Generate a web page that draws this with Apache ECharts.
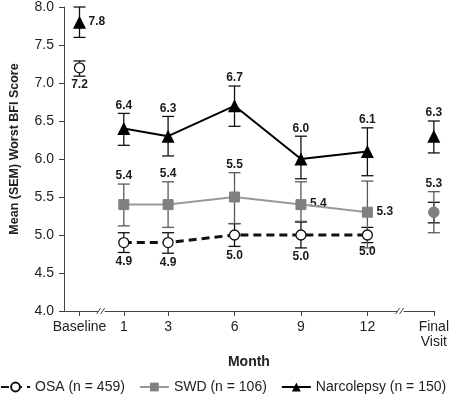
<!DOCTYPE html>
<html>
<head>
<meta charset="utf-8">
<script src="https://cdn.jsdelivr.net/npm/echarts@6/dist/echarts.min.js"></script>
<style>
html,body{margin:0;padding:0;background:#fff;}
#chart{width:452px;height:400px;}
</style>
</head>
<body>
<div id="chart"></div>
<script>
// ---- data ----
const tickLabels = ['Baseline', '1', '3', '6', '9', '12', 'Final\nVisit'];
const monthPos = [-1, 1, 3, 6, 9, 12, 15];
const breakPos = [0, 13.5];

const osaName = 'OSA (n = 459)';
const osaMean = [7.2, 4.9, 4.9, 5.0, 5.0, 5.0, 5.3];
const osaLow  = [7.09, 4.77, 4.76, 4.85, 4.83, 4.90, 5.16];
const osaHigh = [7.29, 5.03, 5.03, 5.15, 5.17, 5.10, 5.43];

const swdName = 'SWD (n = 106)';
const swdMean = [null, 5.4, 5.4, 5.5, 5.4, 5.3, 5.3];
const swdLow  = [null, 5.12, 5.10, 5.15, 5.18, 4.83, 5.03];
const swdHigh = [null, 5.67, 5.70, 5.82, 5.70, 5.71, 5.57];

const narcoName = 'Narcolepsy (n = 150)';
const narcoMean = [7.8, 6.4, 6.3, 6.7, 6.0, 6.1, 6.3];
const narcoLow  = [7.60, 6.18, 6.04, 6.43, 5.74, 5.78, 6.08];
const narcoHigh = [8.00, 6.60, 6.56, 6.96, 6.30, 6.41, 6.50];

// label placement per point (style)
const osaLabelAt   = ['bottom', 'bottom', 'bottom', 'bottom', 'bottom', 'bottom', 'none'];
const swdLabelAt   = ['none', 'top', 'top', 'top', 'right', 'right', 'top'];
const narcoLabelAt = ['right', 'top', 'top', 'top', 'top', 'top', 'top'];

const FONT = '"Liberation Sans", Arial, sans-serif';

function lineData(mean) {
  const rows = [];
  monthPos.forEach((x, i) => {
    if (i === 1) rows.push([breakPos[0], '-']);
    if (i === monthPos.length - 1) rows.push([breakPos[1], '-']);
    rows.push([x, mean[i] == null ? '-' : mean[i]]);
  });
  return rows;
}

function errData(mean, low, high) {
  const rows = [];
  monthPos.forEach((x, i) => {
    if (mean[i] != null) rows.push([x, low[i], high[i], mean[i], i]);
  });
  return rows;
}

function errSeries(name, mean, low, high, labelAt, color, z) {
  return {
    type: 'custom',
    name: name + ' err',
    z: z,
    silent: true,
    clip: false,
    data: errData(mean, low, high),
    encode: { x: 0, y: [1, 2] },
    renderItem: function (params, api) {
      const x = api.value(0), lo = api.value(1), hi = api.value(2), m = api.value(3), idx = api.value(4);
      const pLo = api.coord([x, lo]), pHi = api.coord([x, hi]), pM = api.coord([x, m]);
      const hw = 6;
      const st = { stroke: color, lineWidth: 1.3 };
      const children = [
        { type: 'line', shape: { x1: pHi[0], y1: pHi[1], x2: pLo[0], y2: pLo[1] }, style: st },
        { type: 'line', shape: { x1: pHi[0] - hw, y1: pHi[1], x2: pHi[0] + hw, y2: pHi[1] }, style: st },
        { type: 'line', shape: { x1: pLo[0] - hw, y1: pLo[1], x2: pLo[0] + hw, y2: pLo[1] }, style: st }
      ];
      const where = labelAt[idx];
      if (where !== 'none') {
        const txt = m.toFixed(1);
        let s;
        if (where === 'top') s = { x: pHi[0], y: pHi[1] - 2, align: 'center', verticalAlign: 'bottom' };
        else if (where === 'bottom') s = { x: pLo[0], y: pLo[1] + 3, align: 'center', verticalAlign: 'top' };
        else s = { x: pM[0] + 9, y: pM[1] - 1, align: 'left', verticalAlign: 'middle' };
        s.text = txt;
        s.font = 'bold 12px ' + FONT;
        s.fill = '#1a1a1a';
        children.push({ type: 'text', style: s, z2: 10 });
      }
      return { type: 'group', children: children };
    }
  };
}

const osaLine = lineData(osaMean).map(function (d) {
  if (d[0] === monthPos[monthPos.length - 1]) {
    return { value: d, itemStyle: { color: '#7f7f7f', borderColor: '#7f7f7f' } };
  }
  return d;
});
const swdLine = lineData(swdMean).map(function (d) {
  if (d[0] === monthPos[monthPos.length - 1]) {
    return { value: d, symbol: 'circle' };
  }
  return d;
});

const chart = echarts.init(document.getElementById('chart'), null, { renderer: 'canvas' });

const option = {
  animation: false,
  backgroundColor: '#fff',
  textStyle: { fontFamily: FONT },
  grid: { left: 57, right: 15, top: 7, bottom: 89, containLabel: false },
  legend: {
    bottom: 6,
    left: 0,
    padding: 0,
    itemWidth: 29,
    itemHeight: 11,
    itemGap: 14,
    textStyle: { fontFamily: FONT, fontSize: 14, color: '#222' },
    data: [osaName, swdName, narcoName]
  },
  xAxis: {
    type: 'value',
    min: -1.7,
    max: 15,
    name: 'Month',
    nameLocation: 'middle',
    nameGap: 34,
    nameTextStyle: { fontFamily: FONT, fontSize: 14, fontWeight: 'bold', color: '#222' },
    splitLine: { show: false },
    axisLine: { onZero: false, lineStyle: { color: '#444', width: 1 } },
    axisTick: { show: true, length: 5, lineStyle: { color: '#444' }, customValues: monthPos },
    axisLabel: {
      customValues: monthPos,
      margin: 9,
      fontSize: 14,
      lineHeight: 15,
      color: '#222',
      fontFamily: FONT,
      formatter: function (v) {
        const i = monthPos.indexOf(v);
        return i >= 0 ? tickLabels[i] : '';
      }
    }
  },
  yAxis: {
    type: 'value',
    min: 4,
    max: 8,
    interval: 0.5,
    name: 'Mean (SEM) Worst BFI Score',
    nameLocation: 'middle',
    nameGap: 43,
    nameTextStyle: { fontFamily: FONT, fontSize: 12.5, fontWeight: 'bold', color: '#222', padding: [0, 0, 0, 20] },
    splitLine: { show: false },
    axisLine: { show: true, onZero: false, lineStyle: { color: '#444', width: 1 } },
    axisTick: { show: true, length: 5, lineStyle: { color: '#444' } },
    axisLabel: {
      margin: 10,
      fontSize: 14,
      color: '#222',
      fontFamily: FONT,
      formatter: function (v) { return v.toFixed(1); }
    }
  },
  series: [
    errSeries(osaName, osaMean, osaLow, osaHigh, osaLabelAt, '#111', 3),
    errSeries(swdName, swdMean, swdLow, swdHigh, swdLabelAt, '#5a5a5a', 3),
    errSeries(narcoName, narcoMean, narcoLow, narcoHigh, narcoLabelAt, '#111', 3),
    {
      type: 'line',
      name: swdName,
      z: 5,
      data: swdLine,
      connectNulls: false,
      showSymbol: true,
      symbol: 'rect',
      symbolSize: 10,
      color: '#808080',
      itemStyle: { color: '#808080', borderColor: '#808080' },
      lineStyle: { color: '#999', width: 2 }
    },
    {
      type: 'line',
      name: osaName,
      z: 6,
      data: osaLine,
      connectNulls: false,
      showSymbol: true,
      symbol: 'circle',
      symbolSize: 10,
      color: '#111',
      itemStyle: { color: '#fff', borderColor: '#111', borderWidth: 1.3 },
      lineStyle: { color: '#111', width: 3, type: [8, 5] }
    },
    {
      type: 'line',
      name: narcoName,
      z: 7,
      data: lineData(narcoMean),
      connectNulls: false,
      showSymbol: true,
      symbol: 'triangle',
      symbolSize: 13,
      color: '#000',
      itemStyle: { color: '#000' },
      lineStyle: { color: '#000', width: 2 }
    },
    {
      type: 'custom',
      name: 'breaks',
      z: 10,
      silent: true,
      clip: false,
      data: breakPos.map(function (x) { return [x, 4]; }),
      encode: { x: 0, y: 1 },
      renderItem: function (params, api) {
        const p = api.coord([api.value(0), api.value(1)]);
        const st = { stroke: '#444', lineWidth: 1 };
        return {
          type: 'group',
          children: [
            { type: 'rect', shape: { x: p[0] - 3, y: p[1] - 2, width: 6, height: 4 }, style: { fill: '#fff' } },
            { type: 'line', shape: { x1: p[0] - 5, y1: p[1] + 3, x2: p[0] - 1, y2: p[1] - 3 }, style: st },
            { type: 'line', shape: { x1: p[0] - 1, y1: p[1] + 3, x2: p[0] + 3, y2: p[1] - 3 }, style: st }
          ]
        };
      }
    }
  ]
};
chart.setOption(option);
</script>
</body>
</html>
